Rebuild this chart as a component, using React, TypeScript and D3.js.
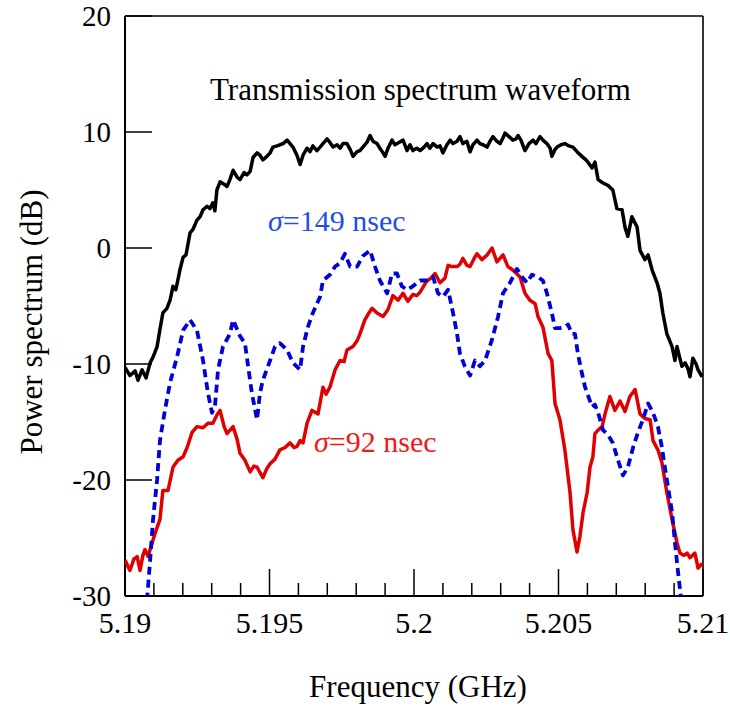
import React from "react";
import * as d3 from "d3";

// ---- Data (frequency in GHz, power in dB) ----
const transFreq = [5.19, 5.19017, 5.19035, 5.19045, 5.19059, 5.19073, 5.19087, 5.19097, 5.19111, 5.19121, 5.19131, 5.19145, 5.19156, 5.19166, 5.19176, 5.1919, 5.19201, 5.19211, 5.19225, 5.19235, 5.19249, 5.1926, 5.1927, 5.19284, 5.19294, 5.19304, 5.19311, 5.19318, 5.19329, 5.19343, 5.19353, 5.19363, 5.19374, 5.19388, 5.19398, 5.19412, 5.19422, 5.19433, 5.19443, 5.19457, 5.19467, 5.19477, 5.19491, 5.19502, 5.19512, 5.19526, 5.19536, 5.19547, 5.19561, 5.19571, 5.19581, 5.19595, 5.19606, 5.19616, 5.1963, 5.1964, 5.1965, 5.19664, 5.19675, 5.19685, 5.19699, 5.19709, 5.1972, 5.19734, 5.19744, 5.19754, 5.19768, 5.19779, 5.19789, 5.19803, 5.19813, 5.19823, 5.19837, 5.19848, 5.19858, 5.19872, 5.19882, 5.19893, 5.199, 5.1991, 5.19924, 5.19934, 5.19948, 5.19962, 5.19976, 5.19986, 5.19996, 5.2001, 5.20021, 5.20035, 5.20045, 5.20055, 5.20066, 5.2008, 5.2009, 5.201, 5.20114, 5.20125, 5.20135, 5.20149, 5.20159, 5.20169, 5.20183, 5.20194, 5.20204, 5.20218, 5.20228, 5.20239, 5.20253, 5.20263, 5.20273, 5.20287, 5.20298, 5.20308, 5.20315, 5.20329, 5.20342, 5.20353, 5.2036, 5.2037, 5.20384, 5.20398, 5.20412, 5.20422, 5.20436, 5.20446, 5.2046, 5.20471, 5.20477, 5.20488, 5.20495, 5.20509, 5.20522, 5.20536, 5.2055, 5.20564, 5.20581, 5.20595, 5.20602, 5.20616, 5.20626, 5.20637, 5.20654, 5.20671, 5.20688, 5.20702, 5.2072, 5.2073, 5.2074, 5.20754, 5.20772, 5.20782, 5.20799, 5.2081, 5.20824, 5.20841, 5.20851, 5.20861, 5.20875, 5.20893, 5.20903, 5.2091, 5.20927, 5.20938, 5.20948, 5.20955, 5.20965, 5.20976, 5.20983, 5.20997];
const transDb = [-10.3, -11.0, -10.6, -11.4, -10.5, -11.2, -9.9, -9.4, -8.5, -7.0, -5.6, -5.2, -4.5, -3.3, -3.6, -1.9, -0.8, -0.6, 1.3, 1.6, 2.4, 2.7, 3.3, 3.6, 3.4, 3.9, 3.2, 5.0, 5.7, 5.5, 5.3, 5.9, 6.7, 6.1, 5.9, 6.5, 6.3, 6.6, 7.8, 8.2, 8.0, 7.6, 7.9, 8.2, 8.7, 8.8, 8.9, 9.0, 9.3, 9.0, 8.7, 8.0, 7.2, 8.0, 8.6, 8.3, 8.8, 8.4, 8.7, 9.0, 9.4, 9.1, 8.7, 8.9, 8.6, 9.0, 9.0, 8.5, 7.9, 8.3, 8.4, 8.7, 9.1, 9.7, 9.2, 9.0, 8.6, 8.2, 7.9, 8.6, 9.3, 8.9, 9.1, 9.3, 8.4, 8.9, 8.4, 8.6, 8.4, 8.7, 9.0, 8.6, 9.0, 8.7, 8.8, 8.2, 8.9, 9.3, 9.0, 9.2, 9.6, 9.0, 9.2, 8.3, 8.9, 9.3, 9.0, 8.9, 8.7, 9.2, 9.6, 9.2, 9.0, 9.5, 9.9, 9.6, 9.3, 9.4, 9.7, 9.3, 8.4, 9.0, 9.3, 9.0, 9.6, 9.3, 9.0, 8.6, 7.9, 8.5, 8.7, 8.9, 9.0, 8.8, 8.7, 8.3, 7.9, 7.6, 7.4, 6.9, 7.4, 5.9, 5.6, 5.4, 5.0, 3.4, 3.3, 1.8, 1.0, 2.7, 1.8, -0.2, -1.0, -0.6, -1.9, -3.0, -3.9, -5.6, -7.4, -8.5, -9.7, -8.5, -10.2, -9.9, -10.4, -11.1, -9.5, -10.0, -10.5, -11.1];

const s149Freq = [5.19076, 5.19087, 5.19097, 5.19111, 5.19121, 5.19138, 5.19156, 5.1918, 5.19201, 5.19225, 5.19249, 5.1927, 5.19287, 5.19301, 5.19311, 5.19322, 5.19339, 5.19363, 5.19374, 5.19398, 5.19415, 5.19426, 5.19439, 5.19457, 5.19467, 5.19477, 5.19502, 5.19519, 5.19536, 5.19561, 5.19581, 5.19606, 5.19616, 5.19633, 5.1965, 5.19675, 5.19685, 5.19709, 5.19727, 5.19744, 5.19761, 5.19779, 5.19803, 5.19823, 5.19848, 5.19865, 5.19882, 5.19907, 5.19924, 5.19941, 5.19958, 5.19976, 5.19996, 5.20021, 5.20045, 5.20066, 5.20083, 5.201, 5.20118, 5.20135, 5.20149, 5.20159, 5.20176, 5.20194, 5.20211, 5.20228, 5.20246, 5.2027, 5.20291, 5.20308, 5.20332, 5.20356, 5.20374, 5.20391, 5.20408, 5.20429, 5.20446, 5.2046, 5.20477, 5.20488, 5.20505, 5.20522, 5.20533, 5.20547, 5.20557, 5.20567, 5.20581, 5.20592, 5.20602, 5.20616, 5.20626, 5.20637, 5.20654, 5.20671, 5.20688, 5.20706, 5.20723, 5.2074, 5.20758, 5.20775, 5.20792, 5.2081, 5.20827, 5.20844, 5.20858, 5.20868, 5.20879, 5.20893, 5.20903, 5.20913, 5.20924];
const s149Db = [-30.4, -26.9, -23.4, -20.0, -16.6, -14.0, -11.6, -9.4, -7.1, -6.2, -7.1, -9.7, -12.5, -14.2, -13.7, -10.5, -8.5, -7.4, -6.2, -7.6, -8.2, -10.2, -12.5, -14.8, -12.5, -11.4, -9.7, -8.5, -8.2, -8.8, -9.9, -10.5, -8.5, -6.8, -5.6, -4.2, -2.8, -2.3, -1.6, -1.3, -0.5, -1.6, -1.6, -0.7, -0.2, -1.6, -2.8, -3.9, -2.2, -2.2, -3.3, -3.6, -3.3, -2.8, -2.8, -2.5, -3.9, -4.2, -3.6, -5.6, -7.4, -9.1, -10.2, -11.0, -9.7, -10.2, -9.7, -7.9, -5.9, -3.9, -3.0, -1.8, -2.5, -3.0, -2.3, -2.5, -2.8, -3.9, -5.6, -6.9, -6.9, -6.8, -6.6, -7.4, -7.4, -9.1, -10.8, -12.0, -12.7, -13.7, -13.5, -14.2, -15.7, -16.1, -16.8, -18.3, -19.6, -18.9, -17.2, -15.9, -14.8, -13.4, -14.2, -15.4, -17.2, -18.9, -20.6, -22.8, -25.4, -27.8, -30.2];

const s92Freq = [5.19, 5.19017, 5.19031, 5.19042, 5.19052, 5.19062, 5.19069, 5.1908, 5.19087, 5.19104, 5.19121, 5.19131, 5.19149, 5.19166, 5.19183, 5.19201, 5.19215, 5.19232, 5.19249, 5.1927, 5.19287, 5.19304, 5.19318, 5.19329, 5.19343, 5.19353, 5.19374, 5.19388, 5.19398, 5.19415, 5.19433, 5.19446, 5.19457, 5.19477, 5.19491, 5.19502, 5.19519, 5.19536, 5.19554, 5.19571, 5.19585, 5.19595, 5.19606, 5.19616, 5.1963, 5.19647, 5.19668, 5.19685, 5.19696, 5.19709, 5.19727, 5.19744, 5.19758, 5.19768, 5.19789, 5.19803, 5.19813, 5.1983, 5.19844, 5.19855, 5.19872, 5.19893, 5.1991, 5.19927, 5.19945, 5.19962, 5.19979, 5.19996, 5.2001, 5.20021, 5.20031, 5.20045, 5.20059, 5.20073, 5.2009, 5.20107, 5.20118, 5.20131, 5.20149, 5.20159, 5.20169, 5.20183, 5.20194, 5.20208, 5.20218, 5.20235, 5.20253, 5.2027, 5.20287, 5.20308, 5.20325, 5.20342, 5.20367, 5.20384, 5.20401, 5.20419, 5.20429, 5.20446, 5.20464, 5.20477, 5.20488, 5.20505, 5.20522, 5.2054, 5.2055, 5.20564, 5.20574, 5.20585, 5.20599, 5.20609, 5.20619, 5.20626, 5.20637, 5.20651, 5.20661, 5.20678, 5.20695, 5.20713, 5.2073, 5.20747, 5.20765, 5.20782, 5.20799, 5.20817, 5.20827, 5.20844, 5.20858, 5.20875, 5.20893, 5.2091, 5.2092, 5.20934, 5.20945, 5.20955, 5.20972, 5.20983, 5.20997];
const s92Db = [-26.9, -27.8, -26.8, -26.6, -27.8, -26.5, -26.0, -26.6, -26.0, -24.6, -23.4, -20.9, -20.9, -18.9, -18.3, -18.0, -17.2, -15.9, -15.4, -15.5, -15.1, -15.1, -14.4, -14.0, -15.4, -16.0, -15.4, -16.5, -17.7, -18.3, -19.3, -18.8, -18.9, -19.8, -19.0, -18.6, -18.2, -17.4, -17.2, -16.8, -17.2, -17.1, -16.6, -16.8, -15.1, -14.0, -14.3, -12.0, -12.6, -12.0, -10.5, -9.7, -9.8, -8.8, -8.5, -8.0, -7.4, -6.2, -5.6, -5.2, -5.6, -5.9, -5.3, -4.1, -4.5, -3.9, -4.6, -4.0, -4.1, -3.8, -3.4, -2.8, -2.6, -2.2, -3.0, -2.6, -1.5, -1.6, -1.6, -1.4, -0.9, -1.5, -1.6, -0.9, -0.5, -1.0, -0.6, 0.0, -1.2, -0.6, -1.6, -1.9, -2.5, -3.9, -4.5, -4.8, -5.9, -6.8, -9.1, -9.7, -13.4, -14.8, -17.4, -21.1, -24.3, -26.2, -24.9, -22.8, -21.1, -18.9, -18.0, -16.0, -15.7, -15.4, -14.3, -12.8, -14.0, -13.2, -14.1, -12.8, -12.2, -14.3, -14.7, -14.8, -16.6, -17.4, -18.5, -21.1, -23.4, -25.4, -26.3, -26.5, -26.3, -26.7, -26.3, -27.6, -27.2];

const xMajorTicks = [5.19, 5.195, 5.2, 5.205, 5.21];
const xMajorLabels = ["5.19", "5.195", "5.2", "5.205", "5.21"];
const xMinorTicks = [5.191, 5.192, 5.193, 5.194, 5.196, 5.197, 5.198, 5.199, 5.201, 5.202, 5.203, 5.204, 5.206, 5.207, 5.208, 5.209];
const yTicks = [20, 10, 0, -10, -20, -30];
const yTickLabels = ["20", "10", "0", "-10", "-20", "-30"];

const W = 730;
const H = 709;
const M = { left: 125, right: 703, top: 16, bottom: 596 };
const serif: React.CSSProperties = { fontFamily: '"Liberation Serif", "DejaVu Serif", serif' };

export default function App() {
  const x = d3.scaleLinear().domain([5.19, 5.21]).range([M.left, M.right]);
  const y = d3.scaleLinear().domain([-30, 20]).range([M.bottom, M.top]);

  const line = d3
    .line<[number, number]>()
    .x((d) => x(d[0]))
    .y((d) => y(d[1]));

  const zip = (f: number[], v: number[]) => f.map((fi, i) => [fi, v[i]] as [number, number]);

  const tPath = line(zip(transFreq, transDb)) || "";
  const bPath = line(zip(s149Freq, s149Db)) || "";
  const rPath = line(zip(s92Freq, s92Db)) || "";

  return (
    <svg
      width={W}
      height={H}
      style={{ position: "absolute", left: 0, top: 0, background: "#fff" }}
    >
      <defs>
        <clipPath id="plotClip">
          <rect x={M.left} y={M.top} width={M.right - M.left} height={M.bottom - M.top} />
        </clipPath>
      </defs>

      {/* frame */}
      <line x1={M.left} x2={M.right} y1={M.top} y2={M.top} stroke="#000" strokeWidth={1.6} />
      <line x1={M.right} x2={M.right} y1={M.top} y2={M.bottom} stroke="#000" strokeWidth={1.6} />
      <line x1={M.left} x2={M.right} y1={M.bottom} y2={M.bottom} stroke="#000" strokeWidth={2} />
      <line x1={M.left} x2={M.left} y1={M.top} y2={M.bottom} stroke="#000" strokeWidth={2} />

      {/* y ticks */}
      {yTicks.map((t, i) => (
        <g key={"y" + t}>
          <line x1={M.left} x2={M.left + 27} y1={y(t)} y2={y(t)} stroke="#000" strokeWidth={1.5} />
          <text x={M.left - 14} y={y(t) + 10} textAnchor="end" fontSize={29} fill="#000" style={serif}>
            {yTickLabels[i]}
          </text>
        </g>
      ))}

      {/* x ticks */}
      {xMinorTicks.map((t) => (
        <line key={"xm" + t} x1={x(t)} x2={x(t)} y1={M.bottom} y2={M.bottom - 13} stroke="#000" strokeWidth={1.5} />
      ))}
      {xMajorTicks.map((t, i) => (
        <g key={"x" + t}>
          <line x1={x(t)} x2={x(t)} y1={M.bottom} y2={M.bottom - 27} stroke="#000" strokeWidth={1.5} />
          <text x={x(t)} y={633} textAnchor="middle" fontSize={30} fill="#000" style={serif}>
            {xMajorLabels[i]}
          </text>
        </g>
      ))}

      {/* axis titles */}
      <text x={418} y={697} textAnchor="middle" fontSize={31} fill="#000" style={serif}>
        Frequency (GHz)
      </text>
      <text transform="translate(42, 322) rotate(-90)" textAnchor="middle" fontSize={31} fill="#000" style={serif}>
        Power spectrum (dB)
      </text>

      {/* curves */}
      <g clipPath="url(#plotClip)" fill="none" strokeLinejoin="round">
        <path d={tPath} stroke="#000" strokeWidth={3.5} />
        <path d={rPath} stroke="#e00000" strokeWidth={3.5} />
        <path d={bPath} stroke="#0000d8" strokeWidth={3.8} strokeDasharray="8,5" />
      </g>

      {/* annotations */}
      <text x={210} y={100} fontSize={31} fill="#000" style={serif}>
        Transmission spectrum waveform
      </text>
      <text x={268} y={231} fontSize={30} fill="#1f4fe6" style={serif}>
        <tspan fontStyle="italic">σ</tspan>=149 nsec
      </text>
      <text x={314} y={452} fontSize={30} fill="#f01818" style={serif}>
        <tspan fontStyle="italic">σ</tspan>=92 nsec
      </text>
    </svg>
  );
}
